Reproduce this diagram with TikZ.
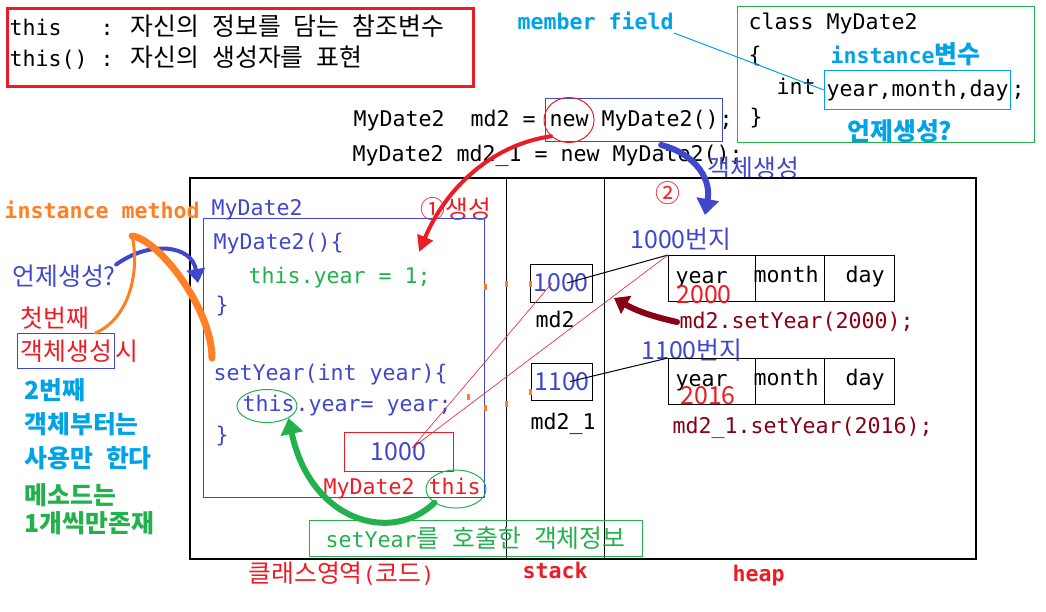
\documentclass[tikz,border=0pt]{standalone}
\usepackage{fontspec}
\setmainfont{DejaVu Sans Mono}
\newfontfamily\krfont[Scale=1.15]{Noto Sans CJK KR}
\usetikzlibrary{arrows.meta, positioning, calc, shapes.geometric}

\definecolor{pRed}{HTML}{ED1C24}
\definecolor{pBlue}{HTML}{3F48CC}
\definecolor{pCyan}{HTML}{00A2E8}
\definecolor{pGreen}{HTML}{22B14C}
\definecolor{pOrange}{HTML}{FF7F27}
\definecolor{pWine}{HTML}{880015}

\newcommand\ko[1]{{\krfont #1}}

\tikzset{
  tx/.style={anchor=west, inner sep=0pt, text height=16pt, text depth=3pt, font=\fontsize{21.6}{26}\selectfont},
  kx/.style={tx, text height=20pt, text depth=2pt},
  numbox/.style={draw, text=pBlue, font=\krfont\fontsize{21.6}{26}\selectfont},
  brush/.style={line width=#1, line cap=round, line join=round},
}

\begin{document}
\begin{tikzpicture}[x=1pt, y=-1pt, line width=1pt]
\useasboundingbox (0,0) rectangle (1046,611);

% what this means
\node[draw=pRed, line width=3pt, minimum width=466pt, minimum height=78pt, anchor=north west] (noteBox) at (6,7) {};
\node[tx] (thisDef) at (9,29) {this~~~: \ko{자신의} \ko{정보를} \ko{담는} \ko{참조변수}};
\node[tx] (thisCall) at (9,60) {this() : \ko{자신의} \ko{생성자를} \ko{표현}};

% the class
\node[draw=pGreen, minimum width=297pt, minimum height=136pt, anchor=north west] (classBox) at (737,6) {};
\node[tx] (classHead) at (748,23) {class MyDate2};
\node[tx] (classOpen) at (748,56) {\{};
\node[tx, pCyan] (instVar) at (830,57) {\bfseries instance\ko{변수}};
\node[tx] (intKw) at (776,88) {int};
\node[tx, draw=pCyan, inner xsep=2pt, minimum height=39pt] (fields) at (824,90) {year,month,day};
\node[tx, right=0pt of fields] (fieldsEnd) {;};
\node[tx] (classClose) at (749,118) {\}};
\node[kx, pCyan] (whenA) at (847,131) {\bfseries\ko{언제생성?}};
\node[tx, pCyan] (memberField) at (517,23) {\bfseries member field};
\draw[pCyan] (memberField.south east) -- (fields.west);

% statements
\node[tx] (decl1) at (353,120) {MyDate2~~md2 =\phantom{x}};
\node[tx, draw=pBlue, inner xsep=4pt, minimum height=43pt, right=-4pt of decl1] (newObj) {new MyDate2()};
\node[tx, right=-4pt of newObj] (decl1End) {;};
\node[ellipse, draw=pRed, minimum width=50pt, minimum height=45pt] (newRing) at ($(newObj.west)+(24,0)$) {};
\node[tx] (decl2) at (352,155) {MyDate2 md2\_1 = new MyDate2();};
\node[kx, pBlue] (mkObj) at (707,168) {\ko{객체생성}};

% memory
\node[draw, line width=1.5pt, minimum width=786pt, minimum height=381pt, anchor=north west] (memory) at (189,177) {};
\draw ($(memory.north west)+(317,0)$) -- ($(memory.south west)+(317,0)$);
\draw ($(memory.north west)+(415,0)$) -- ($(memory.south west)+(415,0)$);
\node[kx, pRed] (classArea) at (248,573) {\ko{클래스영역}(\ko{코드})};
\node[tx, pRed] (stackLbl) at (522,572) {\bfseries stack};
\node[tx, pRed] (heapLbl) at (732,575) {\bfseries heap};

% class area
\node[tx, pBlue] (clsName) at (211,209) {MyDate2};
\node[kx, pRed] (step1) at (420,209) {\ko{①생성}};
\node[draw=pBlue, minimum width=281pt, minimum height=279pt, anchor=north west] (clsBody) at (203,218) {};
\node[tx, pBlue] (ctor) at (213,243) {MyDate2()\{};
\node[tx, pGreen] (ctorBody) at (248,277) {this.year = 1;};
\node[tx, pBlue] (ctorEnd) at (215,306) {\}};
\node[tx, pBlue] (setter) at (213,374) {setYear(int year)\{};
\node[tx, pBlue] (thisA) at (242,405) {this};
\node[tx, pBlue, right=0pt of thisA] (setterBody) {.year= year;};
\node[ellipse, draw=pGreen, minimum width=60pt, minimum height=33pt] (ringA) at (267,406) {};
\node[tx, pBlue] (setterEnd) at (215,436) {\}};
\node[numbox, draw=pRed, minimum width=109pt, minimum height=39pt] (thisVal) at (398.5,451.5) {1000};
\node[tx, pRed] (thisType) at (323,488) {MyDate2\phantom{x}};
\node[tx, pRed, right=0pt of thisType] (thisB) {this};
\node[ellipse, draw=pGreen, minimum width=60pt, minimum height=38pt] (ringB) at (456,489) {};
\node[draw=pGreen, text=pGreen, minimum width=333pt, minimum height=36pt, inner sep=0pt, font=\fontsize{21.6}{26}\selectfont] (caller) at (475.5,538) {setYear\ko{를} \ko{호출한} \ko{객체정보}};

% stack
\node[numbox, minimum width=62pt, minimum height=38pt] (md2Ref) at (561,283) {1000};
\node[tx] (md2Name) at (535,321) {md2};
\node[numbox, minimum width=60pt, minimum height=37pt] (md21Ref) at (562,381.5) {1100};
\node[tx] (md21Name) at (530,423) {md2\_1};

% heap
\node[kx, pRed] (step2) at (655,193) {\ko{②}};
\node[kx, pBlue] (addrA) at (630,239) {\ko{1000번지}};
\node[draw, minimum width=226pt, minimum height=46pt, anchor=north west] (objA) at (668,255) {};
\draw ($(objA.north west)+(87,0)$) -- ($(objA.south west)+(87,0)$);
\draw ($(objA.north west)+(156,0)$) -- ($(objA.south west)+(156,0)$);
\node[tx] (yearA) at (675,277) {year};
\node[tx] (monthA) at (753,276) {month};
\node[tx] (dayA) at (845,276) {day};
\node[kx, pRed] (valA) at (676,294) {\ko{2000}};
\node[tx, pWine] (callA) at (679,322) {md2.setYear(2000);};

\node[kx, pBlue] (addrB) at (641,350) {\ko{1100번지}};
\node[draw, minimum width=226pt, minimum height=46pt, anchor=north west] (objB) at (668,358) {};
\draw ($(objB.north west)+(87,0)$) -- ($(objB.south west)+(87,0)$);
\draw ($(objB.north west)+(156,0)$) -- ($(objB.south west)+(156,0)$);
\node[tx] (yearB) at (675,380) {year};
\node[tx] (monthB) at (753,379) {month};
\node[tx] (dayB) at (845,379) {day};
\node[kx, pRed] (valB) at (680,395) {\ko{2016}};
\node[tx, pWine] (callB) at (672,427) {md2\_1.setYear(2016);};

% references
\draw ([xshift=6pt]md2Ref.center) -- (objA.north west);
\draw ([xshift=8pt]md21Ref.center) -- (objB.north west);
\coordinate (ptr) at (412,448);
\draw[pRed, line width=0.6pt] (ptr) -- ([xshift=-9pt]md2Ref.center);
\draw[pRed, line width=0.6pt] (ptr) -- (objA.north west);
\foreach \p in {(485,287),(506,284),(530,284),(468,397),(485,408),(506,404),(530,392)}
  \fill[pOrange] \p ++(-1,-3) rectangle ++(2.5,6);

% left notes
\node[tx, pOrange] (instMethod) at (4,212) {\bfseries instance method};
\node[kx, pBlue] (whenB) at (12,276) {\ko{언제생성?}};
\node[kx, pRed] (firstTxt) at (20,318) {\ko{첫번째}};
\node[kx, pRed, draw=pBlue, inner xsep=3pt, minimum height=35pt] (firstObj) at (17,351) {\ko{객체생성}};
\node[kx, pRed, right=0pt of firstObj] (firstWhen) {\ko{시}};
\node[kx, pCyan] (secondTxt) at (24,390) {\bfseries\ko{2번째}};
\node[kx, pCyan] (fromObj) at (24,424) {\bfseries\ko{객체부터는}};
\node[kx, pCyan] (useOnly) at (24,458) {\bfseries\ko{사용만} \ko{한다}};
\node[kx, pGreen] (methodTxt) at (24,495) {\bfseries\ko{메소드는}};
\node[kx, pGreen] (oneEach) at (24,523) {\bfseries\ko{1개씩만존재}};

% hand drawn arrows
\draw[pRed, brush=4pt, -{Triangle[length=16pt,width=16pt]}] (newRing.south west) .. controls (490,145) and (445,190) .. (419,252);
\draw[pBlue, brush=6pt, -{Triangle[length=16pt,width=22pt]}] ($(newObj.south east)+(-62,3)$) .. controls (690,152) and (712,175) .. (705,215);
\draw[pBlue, brush=4pt, -{Triangle[length=14pt,width=18pt]}] (whenB.north east) .. controls (150,240) and (192,245) .. (198,283);
\draw[pOrange, brush=3pt] ([xshift=-20pt]firstObj.north east) .. controls (130,318) and (140,270) .. (132,236);
\draw[pOrange, brush=7pt] (132,236) .. controls (160,240) and (212,310) .. (212,358);
\draw[pWine, brush=6pt, -{Triangle[length=14pt,width=20pt]}] ([xshift=-2pt]callA.west) .. controls (650,316) and (635,310) .. (614,298);
\draw[pGreen, brush=6pt, -{Triangle[length=16pt,width=22pt]}] (ringB.south west) .. controls (390,545) and (310,520) .. (ringA.south east);
\end{tikzpicture}
\end{document}
